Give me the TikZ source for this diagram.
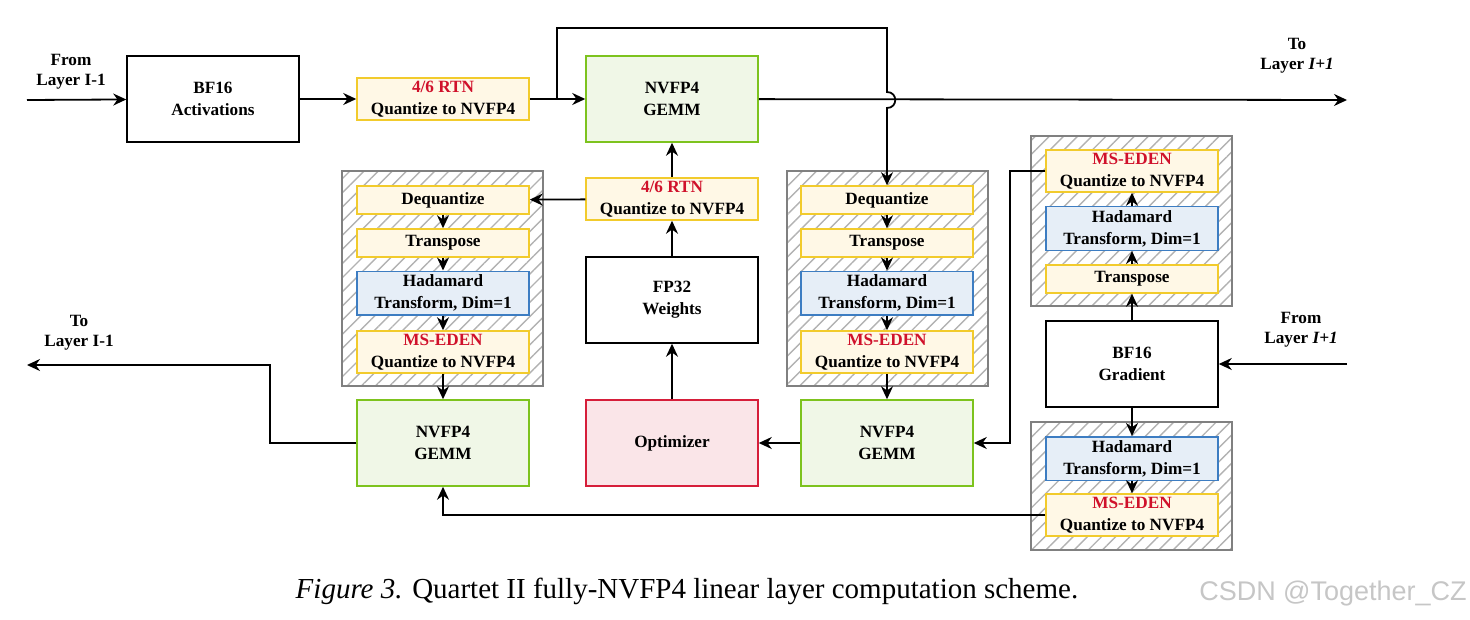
\documentclass[tikz,border=0pt]{standalone}
\usepackage{fontspec}
\setmainfont{Liberation Serif}
\newfontfamily\wmfont{Liberation Sans}
\usetikzlibrary{arrows.meta,patterns.meta}
\definecolor{qfill}{HTML}{FFF8E6}
\definecolor{qline}{HTML}{F2CB2C}
\definecolor{hfill}{HTML}{E6EEF7}
\definecolor{hline}{HTML}{3D7DC2}
\definecolor{gfill}{HTML}{F0F7E7}
\definecolor{gline}{HTML}{7DC31E}
\definecolor{ofill}{HTML}{FAE5E8}
\definecolor{oline}{HTML}{D61E3A}
\definecolor{redtxt}{HTML}{D0112B}
\tikzset{
  base/.style={minimum width=86pt,inner sep=0pt,align=center,line width=0.75pt,
    font=\bfseries\fontsize{8.6}{11}\selectfont},
  plainbox/.style={base,draw=black,minimum height=43pt},
  quant/.style={base,draw=qline,fill=qfill,minimum height=21pt},
  quantone/.style={base,draw=qline,fill=qfill,minimum height=14pt},
  hada/.style={base,draw=hline,fill=hfill,minimum height=21.75pt},
  gemm/.style={base,draw=gline,fill=gfill,minimum height=43pt},
  optbox/.style={base,draw=oline,fill=ofill,minimum height=43pt},
  grp/.style={draw=gray,line width=0.75pt,inner sep=0pt,minimum width=100.5pt,
    pattern={Lines[angle=45,distance=5pt,line width=0.7pt]},pattern color=gray!60},
  lbl/.style={align=center,font=\bfseries\fontsize{8.6}{10}\selectfont},
  conn/.style={-{Stealth[length=6.5pt,width=6pt]},line width=0.9pt},
  wire/.style={line width=0.9pt}
}
\newcommand{\rtn}{\textcolor{redtxt}{4/6 RTN}\\Quantize to NVFP4}
\newcommand{\eden}{\textcolor{redtxt}{MS-EDEN}\\Quantize to NVFP4}
\newcommand{\hadtxt}{Hadamard\\Transform, Dim=1}
\begin{document}
\begin{tikzpicture}[x=0.5pt,y=-0.5pt]
\useasboundingbox (0,0) rectangle (1470,620);
% hatched groups first
\node[grp,minimum height=107.5pt] (grpL) at (442.5,278.5) {};
\node[grp,minimum height=107.5pt] (grpR) at (887.5,278.5) {};
\node[grp,minimum height=85pt] (grpU) at (1131.5,221) {};
\node[grp,minimum height=64pt] (grpB) at (1131.5,486) {};

% forward pass
\coordinate (inA) at (27,100);
\node[plainbox] (act) at (213,99) {BF16\\Activations};
\node[quant] (rtnT) at (443,99) {\rtn};
\node[gemm] (gemmT) at (672,99) {NVFP4\\GEMM};
\coordinate (outA) at (1347,100);
\coordinate (split) at (557,100);
\node[lbl] (fromA) at (71,72) {From\\Layer I-1};
\node[lbl] (toA) at (1297,56) {To\\Layer \textit{I+1}};

% weights column
\node[quant] (rtnM) at (672,199) {\rtn};
\node[plainbox] (fp32) at (672,300) {FP32\\Weights};
\node[optbox] (opt) at (672,443) {Optimizer};

% left group
\node[quantone] (dqL) at (443,200) {Dequantize};
\node[quantone] (trL) at (443,243) {Transpose};
\node[hada] (hdL) at (443,293) {\hadtxt};
\node[quant] (msL) at (443,352) {\eden};
\node[gemm] (gemmL) at (443,443) {NVFP4\\GEMM};
\coordinate (outG) at (27,365);
\node[lbl] (toG) at (79,333) {To\\Layer I-1};

% right group
\node[quantone] (dqR) at (887,200) {Dequantize};
\node[quantone] (trR) at (887,243) {Transpose};
\node[hada] (hdR) at (887,293) {\hadtxt};
\node[quant] (msR) at (887,352) {\eden};
\node[gemm] (gemmR) at (887,443) {NVFP4\\GEMM};

% gradient side
\node[quant] (msU) at (1132,171) {\eden};
\node[hada] (hdU) at (1132,228.5) {\hadtxt};
\node[quantone] (trU) at (1132,279) {Transpose};
\node[plainbox] (grad) at (1132,364) {BF16\\Gradient};
\node[hada] (hdB) at (1132,458.5) {\hadtxt};
\node[quant] (msB) at (1132,515) {\eden};
\coordinate (inG) at (1347,364);
\node[lbl] (fromG) at (1301,330) {From\\Layer \textit{I+1}};

% connectors
\draw[conn] (inA) -- (act);
\draw[conn] (act) -- (rtnT);
\draw[conn] (rtnT) -- (gemmT);
\draw[conn] (gemmT) -- (outA);
\draw[conn] (split) -- (557,28) -| (887,92)
  .. controls (898,92) and (898,108) .. (887,108) -- (dqR.north);
\draw[conn] (rtnM) -- (gemmT);
\draw[conn] (fp32) -- (rtnM);
\draw[conn] (opt) -- (fp32);
\draw[conn] (rtnM) -- (dqL);
\draw[conn] (dqL) -- (trL);
\draw[conn] (trL) -- (hdL);
\draw[conn] (hdL) -- (msL);
\draw[conn] (msL) -- (gemmL);
\draw[conn] (gemmL.west) -- (270,443) |- (outG);
\draw[conn] (dqR) -- (trR);
\draw[conn] (trR) -- (hdR);
\draw[conn] (hdR) -- (msR);
\draw[conn] (msR) -- (gemmR);
\draw[conn] (gemmR) -- (opt);
\draw[conn] (inG) -- (grad);
\draw[conn] (grad) -- (trU);
\draw[conn] (trU) -- (hdU);
\draw[conn] (hdU) -- (msU);
\draw[conn] (msU.west) -- (1010,171) |- (gemmR.east);
\draw[conn] (grad) -- (hdB);
\draw[conn] (hdB) -- (msB);
\draw[conn] (msB.west) -| (gemmL.south);

% caption and mark
\node[font=\fontsize{14.5}{16}\selectfont] (cap) at (687,591)
  {\textit{Figure 3.} Quartet II fully-NVFP4 linear layer computation scheme.};
\node[font=\wmfont\fontsize{13.5}{15}\selectfont,text=gray!45] (mark) at (1333,594) {CSDN @Together\_CZ};
\end{tikzpicture}
\end{document}
